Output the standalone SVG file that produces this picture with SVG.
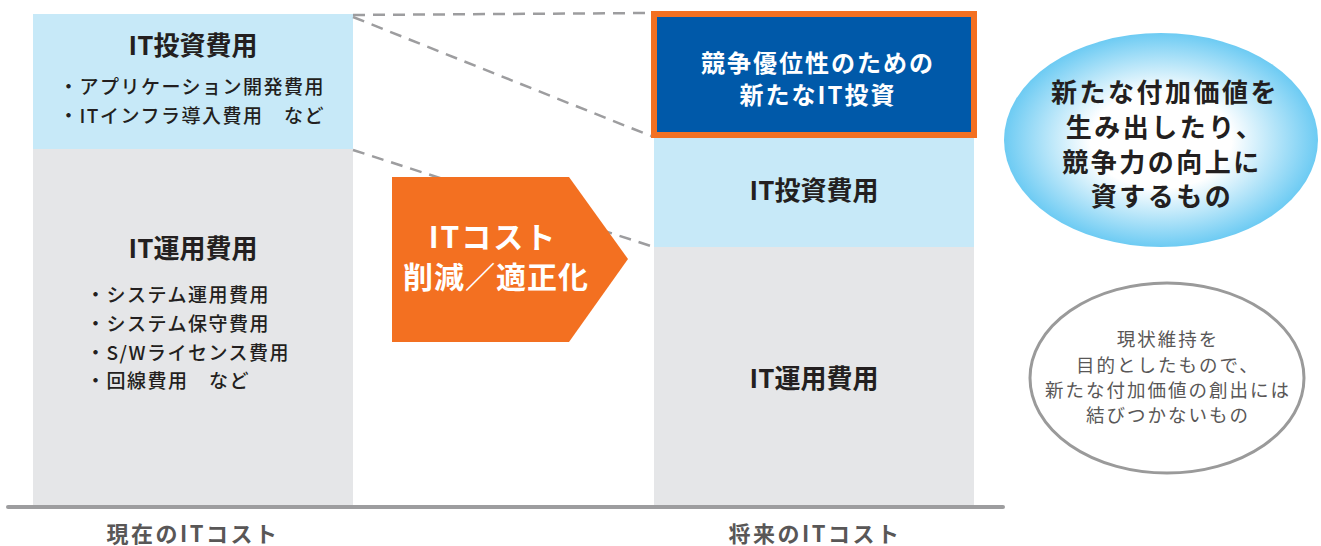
<svg xmlns="http://www.w3.org/2000/svg" width="1321" height="546" viewBox="0 0 1321 546">
<style>
text{font-family:"Noto Sans CJK JP","Noto Sans",sans-serif;}
.t1{font-size:26px;font-weight:bold;fill:#231f20;text-anchor:middle;}
.li{font-size:19px;font-weight:500;fill:#231f20;letter-spacing:1.5px;}
.w{fill:#fff;font-weight:bold;text-anchor:middle;}
.lab{font-size:22px;font-weight:bold;fill:#595757;text-anchor:middle;letter-spacing:2.5px;}
.dash{stroke:#9d9d9f;stroke-width:2.5;stroke-dasharray:12 8;fill:none;}
.g{font-size:18.5px;fill:#595757;text-anchor:middle;letter-spacing:2px;}
</style>
<defs>
<radialGradient id="bg" cx="50%" cy="50%" r="50%">
<stop offset="0" stop-color="#ffffff"/>
<stop offset="0.45" stop-color="#ffffff"/>
<stop offset="1" stop-color="#6dcbf3"/>
</radialGradient>
</defs>
<g id="current">
<rect x="33" y="14" width="320" height="135" fill="#c7e9f8"/>
<rect x="33" y="149" width="320" height="356" fill="#e5e6e8"/>
<text class="t1" x="193" y="55">IT投資費用</text>
<text class="li" x="59" y="94">・アプリケーション開発費用</text>
<text class="li" x="59" y="123">・ITインフラ導入費用　など</text>
<text class="t1" x="193" y="258">IT運用費用</text>
<text class="li" x="86" y="302">・システム運用費用</text>
<text class="li" x="86" y="331">・システム保守費用</text>
<text class="li" x="86" y="360">・S/Wライセンス費用</text>
<text class="li" x="86" y="388">・回線費用　など</text>
</g>
<g id="future">
<rect x="654" y="138" width="320" height="110" fill="#c7e9f8"/>
<rect x="654" y="247" width="320" height="258" fill="#e5e6e8"/>
<rect x="654" y="14" width="320" height="121" fill="#0059a9" stroke="#f37021" stroke-width="6"/>
<text class="w" x="818" y="72" font-size="24" letter-spacing="2">競争優位性のための</text>
<text class="w" x="818" y="104" font-size="24" letter-spacing="2">新たなIT投資</text>
<text class="t1" x="814" y="200">IT投資費用</text>
<text class="t1" x="814" y="388">IT運用費用</text>
</g>
<g id="baseline">
<line x1="8" y1="507" x2="1003" y2="507" stroke="#9d9d9f" stroke-width="4" stroke-linecap="round"/>
<text class="lab" x="193" y="542">現在のITコスト</text>
<text class="lab" x="815" y="542">将来のITコスト</text>
</g>
<g id="connectors">
<line class="dash" x1="353" y1="15" x2="651" y2="13"/>
<line class="dash" x1="353" y1="17" x2="651" y2="136"/>
<line class="dash" x1="353" y1="150" x2="654" y2="247"/>
</g>
<g id="arrow">
<polygon points="392,177 569,177 628,259 569,342 392,342" fill="#f37021"/>
<text class="w" x="493" y="248" font-size="30" letter-spacing="2">ITコスト</text>
<text class="w" x="496" y="288" font-size="30" letter-spacing="1">削減／適正化</text>
</g>
<g id="value">
<ellipse cx="1161" cy="140" rx="157" ry="107" fill="url(#bg)"/>
<text class="t1" x="1165" y="102" font-size="27" letter-spacing="2.5">新たな付加価値を</text>
<text class="t1" x="1165" y="137" font-size="27" letter-spacing="2.5">生み出したり、</text>
<text class="t1" x="1162" y="172" font-size="27" letter-spacing="2.5">競争力の向上に</text>
<text class="t1" x="1162" y="206" font-size="27" letter-spacing="2.5">資するもの</text>
</g>
<g id="maintain">
<ellipse cx="1167" cy="378" rx="137" ry="95" fill="#fff" stroke="#9a9a9a" stroke-width="3"/>
<text class="g" x="1168" y="346">現状維持を</text>
<text class="g" x="1168" y="372">目的としたもので、</text>
<text class="g" x="1168" y="397">新たな付加価値の創出には</text>
<text class="g" x="1168" y="422">結びつかないもの</text>
</g>
</svg>
